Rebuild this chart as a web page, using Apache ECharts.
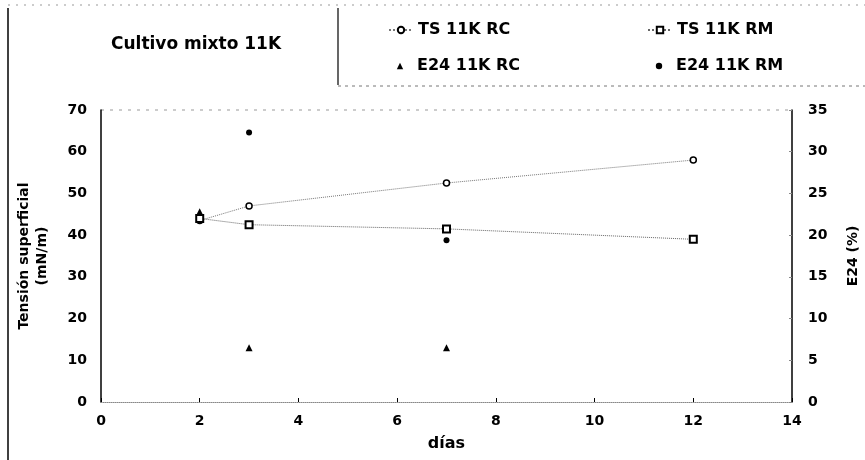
<!DOCTYPE html>
<html><head><meta charset="utf-8">
<script src="https://cdn.jsdelivr.net/npm/echarts@6/dist/echarts.min.js"></script>
<style>html,body{margin:0;padding:0;background:#fff}#c{width:865px;height:460px}</style>
</head><body><div id="c"></div>
<script>
const title = 'Cultivo mixto 11K';
const xTicks = [0,2,4,6,8,10,12,14];
const tsRC = [[2,43.5],[3,47],[7,52.5],[12,58]];
const tsRM = [[2,44],[3,42.5],[7,41.5],[12,39]];
const e24RC = [[2,22.8],[3,6.5],[7,6.5]];
const e24RM = [[3,32.3],[7,19.4]];
const seriesNames = ['TS 11K RC','TS 11K RM','E24 11K RC','E24 11K RM'];

const chart = echarts.init(document.getElementById('c'));
const F = 'DejaVu Sans, sans-serif';
const lbl = {color:'#000', fontFamily:F, fontWeight:'bold', fontSize:14};
const legText = {fontFamily:F, fontSize:16, fontWeight:'bold', color:'#000'};
function leg(name, left, top){
  return {data:[name], left:left, top:top, itemWidth:24, itemHeight:8, itemGap:6, textStyle:legText};
}
chart.setOption({
  animation:false,
  backgroundColor:'#fff',
  title:{text:title, left:106, top:31, textStyle:{fontFamily:F, fontWeight:'bold', fontSize:17, color:'#000'}},
  legend:[ leg(seriesNames[0],383,17), leg(seriesNames[1],642,17), leg(seriesNames[2],383,53), leg(seriesNames[3],642,53) ],
  grid:{left:101, right:73, top:110, bottom:58, outerBoundsMode:'none', containLabel:false},
  xAxis:{type:'value', min:0, max:14, interval:2, name:'días', nameLocation:'middle', nameGap:34,
    nameTextStyle:{fontFamily:F, fontWeight:'bold', fontSize:16, color:'#000'},
    axisLine:{lineStyle:{color:'#888', type:'dotted', width:1}},
    axisTick:{inside:true, length:4, lineStyle:{color:'#000'}},
    axisLabel:Object.assign({margin:12}, lbl),
    splitLine:{show:false}},
  yAxis:[
    {type:'value', min:0, max:70, interval:10, position:'left',
     name:'Tensión superficial\n(mN/m)', nameLocation:'middle', nameGap:50, nameRotate:90,
     nameTextStyle:{fontFamily:F, fontWeight:'bold', fontSize:14, color:'#000', lineHeight:18},
     axisLine:{show:true, lineStyle:{color:'#000', width:1.5}},
     axisTick:{show:false}, axisLabel:Object.assign({margin:14}, lbl),
     splitLine:{show:false}},
    {type:'value', min:0, max:35, interval:5, position:'right',
     name:'E24 (%)', nameLocation:'middle', nameGap:54, nameRotate:90,
     nameTextStyle:{fontFamily:F, fontWeight:'bold', fontSize:14, color:'#000'},
     axisLine:{show:true, lineStyle:{color:'#000', width:1.5}},
     axisTick:{show:true, inside:true, length:3, lineStyle:{color:'#888'}}, axisLabel:Object.assign({margin:16}, lbl),
     splitLine:{show:false}}
  ],
  series:[
    {name:seriesNames[0], type:'line', yAxisIndex:0, data:tsRC, symbol:'circle', symbolSize:6,
     itemStyle:{color:'#fff', borderColor:'#000', borderWidth:1.5},
     lineStyle:{color:'#777', width:1, type:'dotted'}},
    {name:seriesNames[1], type:'line', yAxisIndex:0, data:tsRM, symbol:'rect', symbolSize:7,
     itemStyle:{color:'#fff', borderColor:'#000', borderWidth:2},
     lineStyle:{color:'#666', width:1, type:'dotted'}},
    {name:seriesNames[2], type:'line', yAxisIndex:1, data:e24RC, symbol:'triangle', symbolSize:7,
     itemStyle:{color:'#000'}, lineStyle:{width:0, opacity:0}},
    {name:seriesNames[3], type:'line', yAxisIndex:1, data:e24RM, symbol:'circle', symbolSize:6,
     itemStyle:{color:'#000'}, lineStyle:{width:0, opacity:0}}
  ],
  graphic:[
    {type:'line', shape:{x1:8,y1:8,x2:8,y2:460}, style:{stroke:'#000', lineWidth:1.5}},
    {type:'line', shape:{x1:8,y1:5,x2:865,y2:5}, style:{stroke:'#999', lineWidth:1, lineDash:[2,6]}},
    {type:'line', shape:{x1:338,y1:8,x2:338,y2:85}, style:{stroke:'#000', lineWidth:1.2}},
    {type:'line', shape:{x1:338,y1:86,x2:865,y2:86}, style:{stroke:'#777', lineWidth:1, lineDash:[3,4]}},
    {type:'line', shape:{x1:101,y1:110,x2:792,y2:110}, style:{stroke:'#999', lineWidth:1, lineDash:[3,6]}}
  ]
});
</script></body></html>
